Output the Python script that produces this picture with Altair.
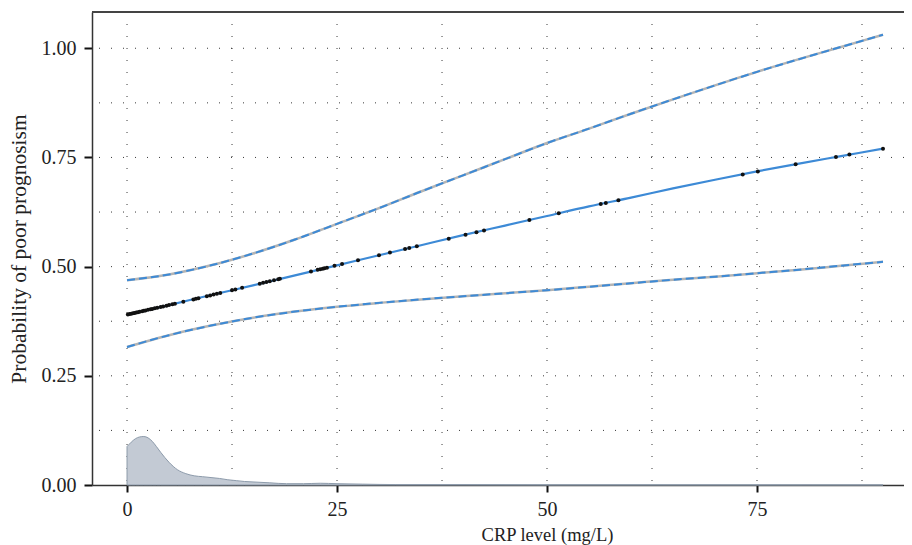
import altair as alt
import pandas as pd

# ---- data ----
crp_grid = [0, 5, 10, 15, 20, 25, 30, 35, 40, 45, 50, 55, 60, 65, 70, 75, 80, 85, 90]
fit = [0.390, 0.412, 0.435, 0.457, 0.480, 0.503, 0.526, 0.549, 0.572, 0.594,
       0.616, 0.638, 0.658, 0.679, 0.699, 0.718, 0.736, 0.753, 0.770]
upper = [0.469, 0.482, 0.503, 0.530, 0.562, 0.598, 0.634, 0.672, 0.709, 0.746,
         0.783, 0.816, 0.850, 0.883, 0.915, 0.946, 0.975, 1.003, 1.031]
lower = [0.316, 0.343, 0.365, 0.383, 0.397, 0.408, 0.417, 0.425, 0.432, 0.439,
         0.446, 0.454, 0.462, 0.470, 0.477, 0.485, 0.493, 0.502, 0.511]

obs_crp = [0.1, 0.3, 0.5, 0.7, 0.9, 1.1, 1.3, 1.5, 1.8, 2.0, 2.2, 2.5, 2.8, 3.0, 3.3,
           3.6, 4.0, 4.3, 4.7, 5.0, 5.4, 5.7, 6.7, 7.9, 8.2, 8.5, 9.5, 9.9, 10.3, 10.7,
           11.1, 12.5, 12.9, 13.7, 15.8, 16.2, 16.6, 17.0, 17.5, 18.0, 18.2, 21.9, 22.7,
           23.0, 23.3, 23.5, 23.8, 24.7, 25.6, 27.5, 30.0, 31.3, 33.1, 33.6, 34.5, 38.3,
           40.3, 41.6, 42.5, 47.9, 51.4, 56.4, 57.0, 58.5, 73.3, 75.1, 79.6, 84.4, 86.0, 90.0]
obs_prob = [0.3905, 0.3914, 0.3923, 0.3932, 0.3940, 0.3949, 0.3958, 0.3967, 0.3980, 0.3989,
            0.3997, 0.4010, 0.4023, 0.4032, 0.4045, 0.4058, 0.4076, 0.4089, 0.4107, 0.4120,
            0.4138, 0.4151, 0.4195, 0.4249, 0.4262, 0.4275, 0.4320, 0.4338, 0.4360, 0.4378,
            0.4396, 0.4460, 0.4478, 0.4514, 0.4610, 0.4628, 0.4646, 0.4665, 0.4688, 0.4711,
            0.4720, 0.4889, 0.4926, 0.4940, 0.4954, 0.4963, 0.4977, 0.5018, 0.5059, 0.5147,
            0.5261, 0.5321, 0.5403, 0.5426, 0.5467, 0.5640, 0.5730, 0.5788, 0.5828, 0.6068,
            0.6220, 0.6434, 0.6459, 0.6521, 0.7110, 0.7179, 0.7343, 0.7512, 0.7566, 0.7700]

dens_crp = [0, 0.5, 1, 1.5, 2, 2.5, 3, 3.5, 4, 5, 6, 7, 8, 9, 10, 11, 12, 13, 14, 15,
            17, 19, 21, 23, 25, 28, 32, 40, 50, 60, 75, 90]
dens_val = [0.088, 0.098, 0.106, 0.110, 0.111, 0.108, 0.100, 0.088, 0.075, 0.052, 0.035,
            0.026, 0.021, 0.019, 0.017, 0.015, 0.012, 0.010, 0.008, 0.007, 0.005, 0.003,
            0.003, 0.004, 0.003, 0.002, 0.001, 0.001, 0.0005, 0.0005, 0.0003, 0.0002]

x_grid = [0, 12.5, 25, 37.5, 50, 62.5, 75, 87.5]
y_grid = [0.125, 0.25, 0.375, 0.5, 0.625, 0.75, 0.875, 1.0]
x_ticks = [0, 25, 50, 75]
y_ticks = [0, 0.25, 0.5, 0.75, 1.0]

W, H = 812, 473
FONT = "Liberation Serif"

curve_df = pd.DataFrame({"crp": crp_grid, "fit": fit, "upper": upper, "lower": lower})
obs_df = pd.DataFrame({"crp": obs_crp, "prob": obs_prob})
dens_df = pd.DataFrame({"crp": dens_crp, "dens": dens_val})
xg_df = pd.DataFrame({"crp": x_grid})
yg_df = pd.DataFrame({"prob": y_grid})

xs = alt.Scale(domain=[-4.17, 92.5], nice=False, zero=False)
ys = alt.Scale(domain=[0, 1.083], nice=False, zero=False)

txt = dict(labelFont=FONT, titleFont=FONT, labelFontSize=20,
           labelColor="#222", titleColor="#222", titleFontWeight="normal")

x_axis = alt.Axis(values=x_ticks, title="CRP level (mg/L)", grid=False, tickSize=7,
                  tickWidth=2, tickColor="#111", labelPadding=7, titlePadding=6,
                  titleFontSize=18.5, titleX=455,
                  domainColor="#333", domainWidth=1.5, **txt)
y_axis = alt.Axis(values=y_ticks, format=".2f", title="Probability of poor prognosism",
                  grid=False, tickSize=8, tickWidth=2, tickColor="#111", labelPadding=8,
                  titlePadding=11, titleFontSize=21.5,
                  domainColor="#333", domainWidth=1.5, **txt)

grid_style = dict(color="#222", strokeWidth=1, strokeDash=[1, 11], opacity=0.9)

vgrid = alt.Chart(xg_df).mark_rule(**grid_style).encode(
    x=alt.X("crp:Q", scale=xs, axis=x_axis))
hgrid = alt.Chart(yg_df).mark_rule(**grid_style).encode(
    y=alt.Y("prob:Q", scale=ys, axis=y_axis))

density = alt.Chart(dens_df).mark_area(
    color="#c3cad4", stroke="#8d9bab", strokeWidth=1, interpolate="monotone"
).encode(x=alt.X("crp:Q", scale=xs), y=alt.Y("dens:Q", scale=ys))

base = alt.Chart(curve_df)
up_gray = base.mark_line(color="#b4b4b4", strokeWidth=2.5, interpolate="monotone").encode(
    x=alt.X("crp:Q", scale=xs), y=alt.Y("upper:Q", scale=ys))
up_blue = base.mark_line(color="#3d8ad6", strokeWidth=2, strokeDash=[8, 4],
                         interpolate="monotone").encode(
    x=alt.X("crp:Q", scale=xs), y=alt.Y("upper:Q", scale=ys))
lo_gray = base.mark_line(color="#b4b4b4", strokeWidth=2.5, interpolate="monotone").encode(
    x=alt.X("crp:Q", scale=xs), y=alt.Y("lower:Q", scale=ys))
lo_blue = base.mark_line(color="#3d8ad6", strokeWidth=2, strokeDash=[8, 4],
                         interpolate="monotone").encode(
    x=alt.X("crp:Q", scale=xs), y=alt.Y("lower:Q", scale=ys))
fit_line = base.mark_line(color="#3d8ad6", strokeWidth=2.2, interpolate="monotone").encode(
    x=alt.X("crp:Q", scale=xs), y=alt.Y("fit:Q", scale=ys))

points = alt.Chart(obs_df).mark_circle(color="#111", size=16, opacity=1).encode(
    x=alt.X("crp:Q", scale=xs), y=alt.Y("prob:Q", scale=ys))

top_border = alt.Chart(curve_df).mark_rule(color="#444", strokeWidth=1.5).encode(
    x=alt.value(0), x2=alt.value(W), y=alt.value(0))

chart = alt.layer(
    vgrid, hgrid, density, up_gray, up_blue, lo_gray, lo_blue, fit_line, points, top_border
).properties(
    width=W, height=H,
    autosize=alt.AutoSizeParams(type="none"),
    padding={"left": 84, "top": 4, "right": 0, "bottom": 60},
).configure_view(stroke=None)

chart.save("out.html", embed_options={"renderer": "svg", "actions": False})
